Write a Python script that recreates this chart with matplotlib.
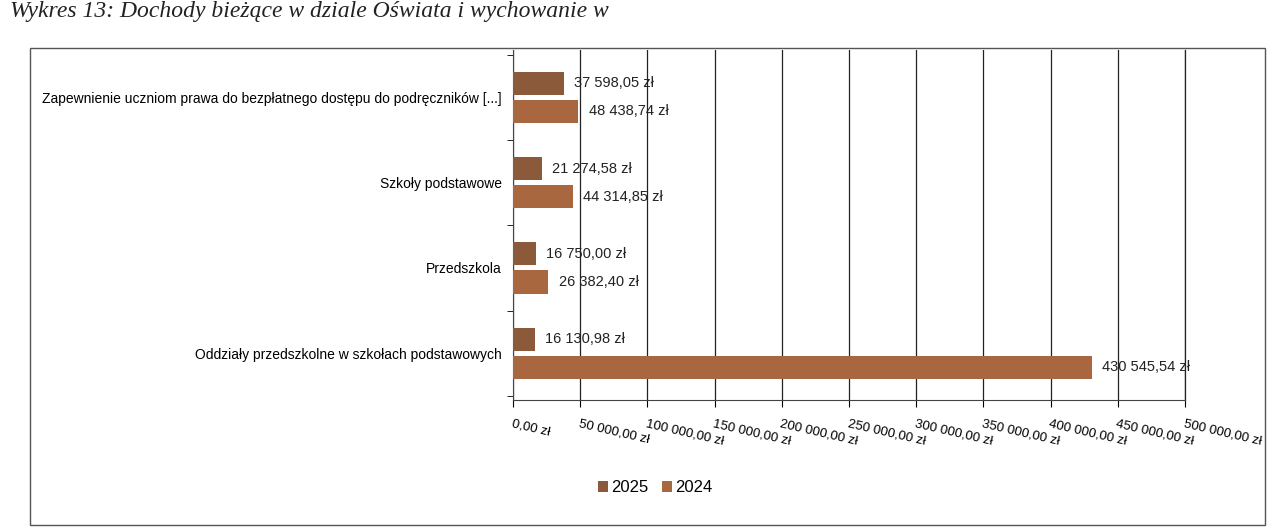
import matplotlib.pyplot as plt
from matplotlib.patches import Rectangle

plt.rcParams['font.family'] = ['Liberation Sans', 'DejaVu Sans']

categories = ["Zapewnienie uczniom prawa do bezpłatnego dostępu do podręczników [...]",
              "Szkoły podstawowe",
              "Przedszkola",
              "Oddziały przedszkolne w szkołach podstawowych"]
values_2025 = [37598.05, 21274.58, 16750.00, 16130.98]
values_2024 = [48438.74, 44314.85, 26382.40, 430545.54]
label_2025 = ["37 598,05 zł", "21 274,58 zł", "16 750,00 zł", "16 130,98 zł"]
label_2024 = ["48 438,74 zł", "44 314,85 zł", "26 382,40 zł", "430 545,54 zł"]
x_ticks = [0, 50000, 100000, 150000, 200000, 250000, 300000, 350000, 400000, 450000, 500000]
x_ticklabels = ["0,00 zł", "50 000,00 zł", "100 000,00 zł", "150 000,00 zł", "200 000,00 zł",
                "250 000,00 zł", "300 000,00 zł", "350 000,00 zł", "400 000,00 zł",
                "450 000,00 zł", "500 000,00 zł"]

c2025 = '#8b5a3a'
c2024 = '#a9673f'

fig = plt.figure(figsize=(12.72, 5.30), dpi=100)

# frame around the chart area
fig.patches.append(Rectangle((30 / 1272, 5 / 530), 1235 / 1272, 477 / 530,
                             transform=fig.transFigure, fill=False,
                             edgecolor='#555555', linewidth=1.0))

fig.text(0.008, 1 - 12 / 530, "Wykres 13: Dochody bieżące w dziale Oświata i wychowanie w",
         family='Liberation Serif', style='italic', fontsize=17, va='center', color='#222222')

ax = fig.add_axes([513 / 1272, 0.245, 672 / 1272, 0.66])

y = list(range(len(categories)))
y_2025 = [i - 0.165 for i in y]
y_2024 = [i + 0.165 for i in y]
ax.barh(y_2025, values_2025, height=0.27, color=c2025, label='2025', zorder=3)
ax.barh(y_2024, values_2024, height=0.27, color=c2024, label='2024', zorder=3)

for yy, v, t in zip(y_2025, values_2025, label_2025):
    ax.text(v + 8000, yy, t, va='center', ha='left', fontsize=10.5, color='#222222', zorder=4)
for yy, v, t in zip(y_2024, values_2024, label_2024):
    ax.text(v + 8000, yy, t, va='center', ha='left', fontsize=10.5, color='#222222', zorder=4)

ax.set_ylim(3.55, -0.55)
ax.set_xlim(0, 500000)
ax.set_yticks(y)
ax.set_yticklabels(categories, fontsize=10)
ax.set_yticks([i + 0.5 for i in range(-1, len(categories))], minor=True)
ax.tick_params(axis='y', which='major', length=0, pad=8)
ax.tick_params(axis='y', which='minor', length=4, direction='out')

ax.set_xticks(x_ticks)
ax.set_xticklabels(x_ticklabels, rotation=-13, ha='left', rotation_mode='anchor', fontsize=9.5)
ax.tick_params(axis='x', length=5, direction='out', pad=8)

ax.grid(axis='x', color='#222222', linewidth=0.9, zorder=0)
ax.spines['top'].set_visible(False)
ax.spines['right'].set_color('#222222')
ax.spines['right'].set_linewidth(0.9)
ax.spines['left'].set_color('#444444')
ax.spines['bottom'].set_color('#444444')

fig.legend(loc='center', bbox_to_anchor=(655 / 1272, 1 - 488 / 530), ncol=2, frameon=False,
           fontsize=12, handlelength=0.6, handleheight=0.6, handletextpad=0.2, columnspacing=0.8)

fig.savefig('out.png', dpi=100)
